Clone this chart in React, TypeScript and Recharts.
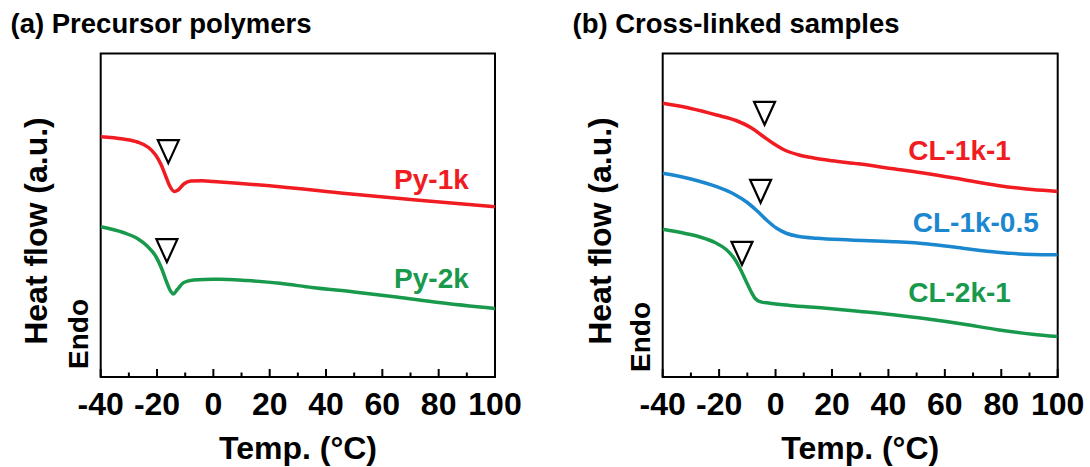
import React from 'react';
import { ComposedChart, Line, XAxis, YAxis, ReferenceArea, ReferenceDot } from 'recharts';

const FONT = '"Liberation Sans", Arial, Helvetica, sans-serif';
const RED = '#F01C22';
const GREEN = '#18994C';
const BLUE = '#1B87CF';

const X_TICKS = [-40, -30, -20, -10, 0, 10, 20, 30, 40, 50, 60, 70, 80, 90, 100];
const Y_DOMAIN: [number, number] = [0, 323.5];

// (a) Precursor polymers  — t: temperature (°C), v: heat flow (a.u.)
const PY_1K = [
  { t: -40, v: 240.3 }, { t: -32, v: 238 }, { t: -27, v: 235 }, { t: -23, v: 229.5 },
  { t: -20.5, v: 222 }, { t: -18.5, v: 212 }, { t: -16.8, v: 200 }, { t: -15.3, v: 190 },
  { t: -13.9, v: 185.5 }, { t: -12.5, v: 187 }, { t: -10.5, v: 193 }, { t: -8, v: 196 },
  { t: -4, v: 196.2 }, { t: 0, v: 195.5 }, { t: 23.6, v: 190.3 }, { t: 47, v: 183.5 },
  { t: 72, v: 177 }, { t: 100, v: 170.2 },
];
const PY_2K = [
  { t: -40, v: 150.3 }, { t: -32, v: 144.5 }, { t: -27, v: 138.5 }, { t: -23.5, v: 131 },
  { t: -20.5, v: 121 }, { t: -18.3, v: 108 }, { t: -16.6, v: 95 }, { t: -15.2, v: 86 },
  { t: -14.2, v: 83 }, { t: -12.8, v: 87.5 }, { t: -10.5, v: 94.5 }, { t: -7, v: 97 },
  { t: 0, v: 97.7 }, { t: 5.5, v: 97.6 }, { t: 12, v: 96.5 }, { t: 23.6, v: 93.7 },
  { t: 35, v: 89.5 }, { t: 50, v: 85 }, { t: 65, v: 80 }, { t: 80, v: 74.5 }, { t: 100, v: 68.5 },
];

// (b) Cross-linked samples
const CL_1K_1 = [
  { t: -40, v: 273.7 }, { t: -30, v: 268.5 }, { t: -20.9, v: 262 }, { t: -14, v: 256.5 },
  { t: -8.5, v: 249 }, { t: -4.3, v: 240.5 }, { t: -0.5, v: 233 }, { t: 2.8, v: 227.5 },
  { t: 8, v: 222.3 }, { t: 14, v: 218.8 }, { t: 20, v: 216.3 }, { t: 29.3, v: 213.2 },
  { t: 41.7, v: 208.2 }, { t: 54, v: 203.2 }, { t: 66.3, v: 197.5 }, { t: 78.7, v: 191.6 },
  { t: 91, v: 187.4 }, { t: 100, v: 185.5 },
];
const CL_1K_05 = [
  { t: -40, v: 203.7 }, { t: -30, v: 198 }, { t: -20.9, v: 190.3 }, { t: -14.5, v: 182.5 },
  { t: -10, v: 174.5 }, { t: -6.7, v: 166.5 }, { t: -3.2, v: 157 }, { t: 0.4, v: 148.7 },
  { t: 4, v: 143.5 }, { t: 8.5, v: 140.5 }, { t: 14.5, v: 138.7 }, { t: 26.5, v: 137 },
  { t: 41.7, v: 135.3 }, { t: 54, v: 133 }, { t: 66.3, v: 128.8 }, { t: 78.7, v: 124.8 },
  { t: 91, v: 122.6 }, { t: 100, v: 122.3 },
];
const CL_2K_1 = [
  { t: -40, v: 147.7 }, { t: -32, v: 143.5 }, { t: -26.8, v: 140 }, { t: -21.5, v: 134.5 },
  { t: -17.5, v: 127.5 }, { t: -14.5, v: 118 }, { t: -12.5, v: 108 }, { t: -10.5, v: 96 },
  { t: -8.7, v: 85.5 }, { t: -7.2, v: 78.5 }, { t: -5.5, v: 75.3 }, { t: -2, v: 73.8 },
  { t: 5, v: 71.6 }, { t: 17, v: 69 }, { t: 30, v: 65.6 }, { t: 41.7, v: 62.3 },
  { t: 54, v: 58 }, { t: 66.3, v: 53 }, { t: 78.7, v: 47.3 }, { t: 91, v: 42.7 }, { t: 100, v: 40.4 },
];

// Tg markers (open triangles)
const TG_A = [{ t: -16, v: 225.3 }, { t: -16.5, v: 126.3 }];
const TG_B = [{ t: -3.9, v: 263.7 }, { t: -5.3, v: 185.7 }, { t: -11.9, v: 123.7 }];

// series name labels (right end of text, vertical centre of caps)
const LABELS_A = [
  { name: 'Py-1k', t: 90.7, v: 198.5, color: RED },
  { name: 'Py-2k', t: 90.7, v: 99, color: GREEN },
];
const LABELS_B = [
  { name: 'CL-1k-1', t: 83.4, v: 227.1, color: RED },
  { name: 'CL-1k-0.5', t: 93.3, v: 155.5, color: BLUE },
  { name: 'CL-2k-1', t: 83.4, v: 84.6, color: GREEN },
];

const XTick = (props: any) => {
  const { x, y, payload } = props;
  const v = payload.value;
  const major = v % 20 === 0;
  return (
    <g>
      <line x1={x} x2={x} y1={y} y2={y - (major ? 8 : 4.5)} stroke="#000" strokeWidth={2} />
      {major && (
        <text x={x} y={y + 38} textAnchor="middle" fontFamily={FONT} fontWeight="bold" fontSize={32} fill="#000">
          {v}
        </text>
      )}
    </g>
  );
};

const Triangle = (props: any) => {
  const { cx, cy } = props;
  const w = 10.5, h = 11.5;
  return (
    <path
      d={`M${cx - w},${cy - h} L${cx + w},${cy - h} L${cx},${cy + h} Z`}
      fill="#fff"
      stroke="#000"
      strokeWidth={2.2}
      strokeLinejoin="miter"
    />
  );
};

const makeLabel = (name: string, color: string) => (props: any) => {
  const { cx, cy } = props;
  return (
    <text x={cx} y={cy + 10} textAnchor="end" fontFamily={FONT} fontWeight="bold" fontSize={28} fill={color}>
      {name}
    </text>
  );
};

type Series = { data: { t: number; v: number }[]; color: string; key: string };

const Panel = ({ margin, series, tg, labels }: { margin: any; series: Series[]; tg: { t: number; v: number }[]; labels: any[] }) => (
  <ComposedChart width={545} height={467} margin={margin}>
    <XAxis
      type="number"
      dataKey="t"
      domain={[-40, 100]}
      ticks={X_TICKS}
      interval={0}
      allowDataOverflow
      height={90}
      tickSize={0}
      tickMargin={0}
      tickLine={false}
      axisLine={false}
      tick={<XTick />}
    />
    <YAxis type="number" dataKey="v" domain={Y_DOMAIN} allowDataOverflow hide />
    {series.map((s) => (
      <Line
        key={s.key}
        data={s.data}
        dataKey="v"
        type="monotone"
        stroke={s.color}
        strokeWidth={3.5}
        dot={false}
        activeDot={false}
        isAnimationActive={false}
      />
    ))}
    <ReferenceArea x1={-40} x2={100} y1={Y_DOMAIN[0]} y2={Y_DOMAIN[1]} fill="none" fillOpacity={0} stroke="#000" strokeWidth={2} />
    {tg.map((p, i) => (
      <ReferenceDot key={'tg' + i} x={p.t} y={p.v} r={11} shape={<Triangle />} />
    ))}
    {labels.map((l) => (
      <ReferenceDot key={l.name} x={l.t} y={l.v} r={1} shape={makeLabel(l.name, l.color)} />
    ))}
  </ComposedChart>
);

export default function App() {
  const txt = { fontFamily: FONT, fontWeight: 'bold' as const, fill: '#000' };
  return (
    <div style={{ position: 'absolute', left: 0, top: 0, width: 1090, height: 467, background: '#fff', overflow: 'hidden' }}>
      <div style={{ position: 'absolute', left: 0, top: 0 }}>
        <Panel
          margin={{ top: 53.5, right: 50, bottom: 0, left: 100.7 }}
          series={[
            { key: 'py1k', data: PY_1K, color: RED },
            { key: 'py2k', data: PY_2K, color: GREEN },
          ]}
          tg={TG_A}
          labels={LABELS_A}
        />
      </div>
      <div style={{ position: 'absolute', left: 545, top: 0 }}>
        <Panel
          margin={{ top: 53.5, right: 32.3, bottom: 0, left: 117.7 }}
          series={[
            { key: 'cl1k1', data: CL_1K_1, color: RED },
            { key: 'cl1k05', data: CL_1K_05, color: BLUE },
            { key: 'cl2k1', data: CL_2K_1, color: GREEN },
          ]}
          tg={TG_B}
          labels={LABELS_B}
        />
      </div>
      <svg width={1090} height={467} style={{ position: 'absolute', left: 0, top: 0, pointerEvents: 'none' }}>
        <text x={10.5} y={33} fontSize={27.5} {...txt}>(a) Precursor polymers</text>
        <text x={572.5} y={33} fontSize={27.5} {...txt}>(b) Cross-linked samples</text>
        <text transform="translate(47,231) rotate(-90)" textAnchor="middle" fontSize={32} {...txt}>Heat flow (a.u.)</text>
        <text transform="translate(611,231) rotate(-90)" textAnchor="middle" fontSize={32} {...txt}>Heat flow (a.u.)</text>
        <text transform="translate(88,334) rotate(-90)" textAnchor="middle" fontSize={28} {...txt}>Endo</text>
        <text transform="translate(649.5,337) rotate(-90)" textAnchor="middle" fontSize={28} {...txt}>Endo</text>
        <text x={298} y={458.5} textAnchor="middle" fontSize={32} {...txt}>Temp. (°C)</text>
        <text x={860.2} y={458.5} textAnchor="middle" fontSize={32} {...txt}>Temp. (°C)</text>
      </svg>
    </div>
  );
}
